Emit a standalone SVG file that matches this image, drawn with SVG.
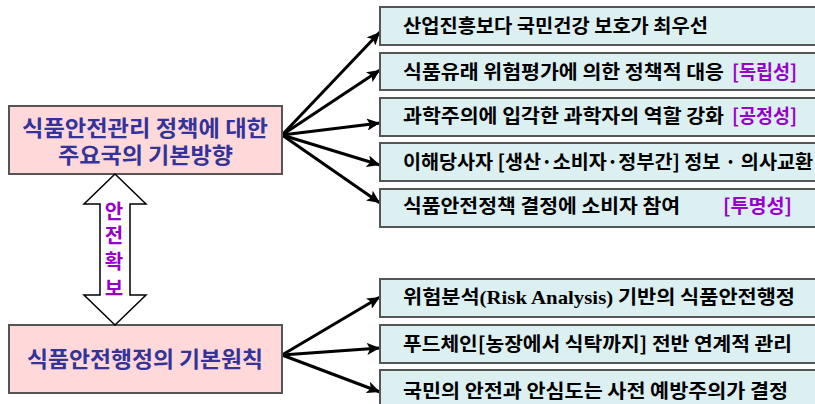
<svg xmlns="http://www.w3.org/2000/svg" width="815" height="404" viewBox="0 0 815 404">
<style>
.lbox{fill:#FFD9DA;stroke:#555;stroke-width:2}
.rbox{fill:#DCEFF1;stroke:#555;stroke-width:2}
.lt{font-family:"Noto Sans CJK KR","Noto Sans",sans-serif;font-weight:bold;font-size:22px;fill:#333399}
.rt{font-family:"Noto Sans CJK KR","Noto Sans",sans-serif;font-weight:bold;font-size:19.5px;fill:#000}
.pp{fill:#9900CC}
.serif{font-family:"Liberation Serif","Noto Sans CJK KR",serif;font-weight:bold}
.at{font-family:"Noto Sans CJK KR","Noto Sans",sans-serif;font-weight:bold;font-size:20px;fill:#9900CC;text-anchor:middle}
.conn{stroke:#000;stroke-width:3;fill:none;marker-end:url(#ah)}
</style>
<defs>
<marker id="ah" markerUnits="userSpaceOnUse" markerWidth="14" markerHeight="12" refX="13" refY="6" orient="auto">
<path d="M0,0 L13,6 L0,12 L3,6 z" fill="#000"/>
</marker>
</defs>
<rect width="815" height="404" fill="#fff"/>
<g id="connectors">
<line class="conn" x1="282" y1="135" x2="380" y2="32"/>
<line class="conn" x1="282" y1="135" x2="380" y2="70"/>
<line class="conn" x1="282" y1="135" x2="380" y2="123"/>
<line class="conn" x1="282" y1="135" x2="380" y2="165"/>
<line class="conn" x1="282" y1="135" x2="380" y2="203"/>
<line class="conn" x1="282" y1="355" x2="380" y2="297"/>
<line class="conn" x1="282" y1="355" x2="380" y2="348"/>
<line class="conn" x1="282" y1="355" x2="380" y2="392"/>
</g>
<g id="left1">
<rect class="lbox" x="9" y="106" width="273" height="68"/>
<text class="lt" x="22" y="136" textLength="246" lengthAdjust="spacingAndGlyphs">식품안전관리 정책에 대한</text>
<text class="lt" x="58" y="163" textLength="175" lengthAdjust="spacingAndGlyphs">주요국의 기본방향</text>
</g>
<g id="left2">
<rect class="lbox" x="9" y="325" width="273" height="68"/>
<text class="lt" x="27" y="367" textLength="236" lengthAdjust="spacingAndGlyphs">식품안전행정의 기본원칙</text>
</g>
<g id="safety-arrow">
<polygon points="115,174 146,204 130,204 130,295 146,295 115,325 84,295 100,295 100,204 84,204" fill="#fff" stroke="#000" stroke-width="1.5"/>
<text class="at" x="114" y="219">안</text>
<text class="at" x="114" y="243">전</text>
<text class="at" x="114" y="269">확</text>
<text class="at" x="114" y="296">보</text>
</g>
<g id="r1">
<rect class="rbox" x="380" y="7" width="440" height="38"/>
<text class="rt" x="403" y="33" textLength="305" lengthAdjust="spacingAndGlyphs">산업진흥보다 국민건강 보호가 최우선</text>
</g>
<g id="r2">
<rect class="rbox" x="380" y="53" width="440" height="37"/>
<text class="rt" x="403" y="79" textLength="321" lengthAdjust="spacingAndGlyphs">식품유래 위험평가에 의한 정책적 대응</text>
<text class="rt pp" x="732" y="79" textLength="65" lengthAdjust="spacingAndGlyphs">[독립성]</text>
</g>
<g id="r3">
<rect class="rbox" x="380" y="98" width="440" height="38"/>
<text class="rt" x="403" y="123" textLength="321" lengthAdjust="spacingAndGlyphs">과학주의에 입각한 과학자의 역할 강화</text>
<text class="rt pp" x="732" y="123" textLength="65" lengthAdjust="spacingAndGlyphs">[공정성]</text>
</g>
<g id="r4">
<rect class="rbox" x="380" y="143" width="440" height="38"/>
<text class="rt" x="403" y="169" textLength="410" lengthAdjust="spacingAndGlyphs">이해당사자 [생산·소비자·정부간] 정보 · 의사교환</text>
</g>
<g id="r5">
<rect class="rbox" x="380" y="189" width="440" height="38"/>
<text class="rt" x="403" y="213" textLength="277" lengthAdjust="spacingAndGlyphs">식품안전정책 결정에 소비자 참여</text>
<text class="rt pp" x="723" y="213" textLength="69" lengthAdjust="spacingAndGlyphs">[투명성]</text>
</g>
<g id="r6">
<rect class="rbox" x="380" y="279" width="440" height="38"/>
<text class="rt" x="403" y="304" textLength="392" lengthAdjust="spacingAndGlyphs">위험분석<tspan class="serif">(Risk Analysis)</tspan> 기반의 식품안전행정</text>
</g>
<g id="r7">
<rect class="rbox" x="380" y="325" width="440" height="38"/>
<text class="rt" x="403" y="351" textLength="389" lengthAdjust="spacingAndGlyphs">푸드체인[농장에서 식탁까지] 전반 연계적 관리</text>
</g>
<g id="r8">
<rect class="rbox" x="380" y="370" width="440" height="40"/>
<text class="rt" x="403" y="398" textLength="385" lengthAdjust="spacingAndGlyphs">국민의 안전과 안심도는 사전 예방주의가 결정</text>
</g>
</svg>
